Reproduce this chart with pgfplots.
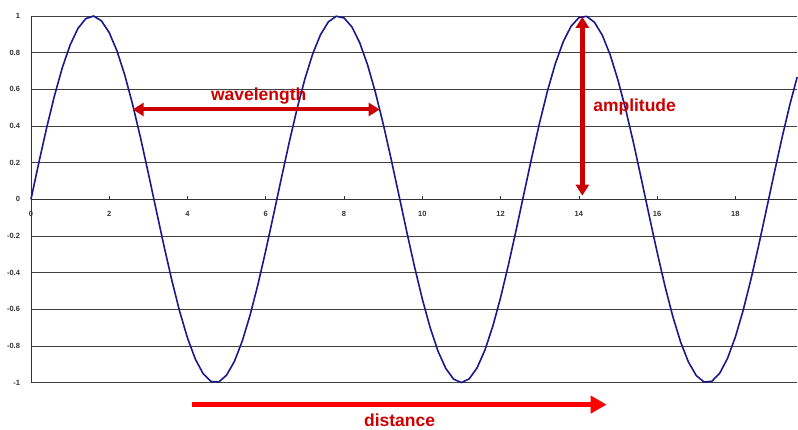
\documentclass[border=0pt]{standalone}
\usepackage{pgfplots}
\pgfplotsset{compat=1.18}
\usepackage{fontspec}
\setmainfont{Liberation Sans}
\usetikzlibrary{arrows.meta}
\definecolor{wave}{RGB}{25,25,140}
\definecolor{darkred}{RGB}{204,0,0}
\definecolor{brightred}{RGB}{255,0,0}
\begin{document}
\begin{tikzpicture}
\begin{axis}[
  scale only axis,
  width=767pt, height=367pt,
  xmin=0, xmax=19.58, ymin=-1, ymax=1,
  axis x line=middle, axis y line=left,
  axis line style={-, black!80, line width=0.9pt},
  hide obscured x ticks=false,
  xtick={0,2,...,18},
  ytick={-1,-0.8,-0.6,-0.4,-0.2,0,0.2,0.4,0.6,0.8,1},
  yticklabels={-1,-0.8,-0.6,-0.4,-0.2,0,0.2,0.4,0.6,0.8,1},
  ymajorgrids=true,
  grid style={black!75, line width=0.9pt},
  xtick align=inside,
  x tick style={black!80, line width=0.6pt},
  major tick length=3pt,
  y tick style={draw=none},
  tick label style={font=\fontsize{7.5}{8}\selectfont\bfseries, text=black!80},
  xticklabel style={anchor=north, text height=6pt, text depth=0pt, yshift=-8pt},
  yticklabel style={xshift=-6pt},
  /pgf/number format/assume math mode=true,
  clip=false,
]
\addplot[wave, line width=1.6pt] coordinates {
(0,0) (0.2,0.1987) (0.4,0.3894) (0.6,0.5646) (0.8,0.7174) (1.0,0.8415)
(1.2,0.9320) (1.4,0.9854) (1.6,0.9996) (1.8,0.9738) (2.0,0.9093)
(2.2,0.8085) (2.4,0.6755) (2.6,0.5155) (2.8,0.3350) (3.0,0.1411)
(3.2,-0.0584) (3.4,-0.2555) (3.6,-0.4425) (3.8,-0.6119) (4.0,-0.7568)
(4.2,-0.8716) (4.4,-0.9516) (4.6,-0.9937) (4.8,-0.9962) (5.0,-0.9589)
(5.2,-0.8835) (5.4,-0.7728) (5.6,-0.6313) (5.8,-0.4646) (6.0,-0.2794)
(6.2,-0.0831) (6.4,0.1165) (6.6,0.3115) (6.8,0.4941) (7.0,0.6570)
(7.2,0.7937) (7.4,0.8987) (7.6,0.9679) (7.8,0.9985) (8.0,0.9894)
(8.2,0.9407) (8.4,0.8546) (8.6,0.7344) (8.8,0.5849) (9.0,0.4121)
(9.2,0.2229) (9.4,0.0248) (9.6,-0.1743) (9.8,-0.3665) (10.0,-0.5440)
(10.2,-0.6999) (10.4,-0.8278) (10.6,-0.9228) (10.8,-0.9809) (11.0,-1.0000)
(11.2,-0.9792) (11.4,-0.9193) (11.6,-0.8228) (11.8,-0.6935) (12.0,-0.5366)
(12.2,-0.3582) (12.4,-0.1656) (12.6,0.0336) (12.8,0.2315) (13.0,0.4202)
(13.2,0.5921) (13.4,0.7403) (13.6,0.8591) (13.8,0.9437) (14.0,0.9906)
(14.2,0.9980) (14.4,0.9656) (14.6,0.8947) (14.8,0.7885) (15.0,0.6503)
(15.2,0.4872) (15.4,0.3048) (15.6,0.1078) (15.8,-0.0919) (16.0,-0.2879)
(16.2,-0.4724) (16.4,-0.6381) (16.6,-0.7782) (16.8,-0.8875) (17.0,-0.9614)
(17.2,-0.9969) (17.4,-0.9926) (17.6,-0.9488) (17.8,-0.8674) (18.0,-0.7510)
(18.2,-0.6050) (18.4,-0.4346) (18.6,-0.2470) (18.8,-0.0496) (19.0,0.1499)
(19.2,0.3433) (19.4,0.5230) (19.58,0.6673)
};
% wavelength
\draw[darkred, line width=4pt, {Triangle[length=11pt,width=13pt]}-{Triangle[length=11pt,width=13pt]}]
  (axis cs:2.60,0.49) -- (axis cs:8.91,0.49);
\node[text=darkred, font=\fontsize{17.5}{20}\selectfont\bfseries] at (axis cs:5.82,0.564) {wavelength};
% amplitude
\draw[darkred, line width=4.5pt, {Triangle[length=11pt,width=13pt]}-{Triangle[length=11pt,width=13pt]}]
  (axis cs:14.09,0.02) -- (axis cs:14.09,0.995);
\node[text=darkred, anchor=west, font=\fontsize{17.5}{20}\selectfont\bfseries] at (axis cs:14.28,0.504) {amplitude};
% distance
\draw[brightred, line width=5.5pt, -{Triangle[length=16pt,width=17pt]}]
  (axis cs:4.11,-1.12) -- (axis cs:14.71,-1.12);
\node[text=darkred, font=\fontsize{17.5}{20}\selectfont\bfseries] at (axis cs:9.42,-1.205) {distance};
\end{axis}
\useasboundingbox (-31pt,-44pt) rectangle (767pt,383pt);
\end{tikzpicture}
\end{document}
